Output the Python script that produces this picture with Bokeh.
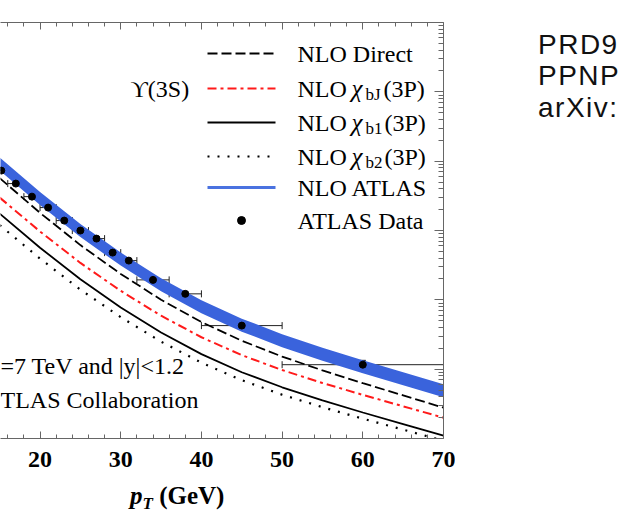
from bokeh.plotting import figure
from bokeh.layouts import row, column
from bokeh.models import (ColumnDataSource, Range1d, LinearScale, LinearAxis, LogAxis, Div,
                          FixedTicker, CustomJSTickFormatter, Whisker, TeeHead)
from bokeh.core.properties import value
from bokeh.embed import file_html
from bokeh.resources import INLINE

# NLO predictions for Upsilon(3S), d(sigma)/dpT x Br, on a pT grid (GeV)
pt_grid = [15, 20, 25, 30, 35, 40, 45, 50, 55, 60, 65, 70]
nlo_direct = [5.703e-2, 1.795e-2, 6.157e-3, 2.364e-3, 1.003e-3, 4.783e-4, 2.569e-4, 1.520e-4, 9.609e-5, 6.281e-5, 4.186e-5, 2.782e-5]
nlo_chibj = [2.984e-2, 9.674e-3, 3.407e-3, 1.349e-3, 5.896e-4, 2.886e-4, 1.592e-4, 9.705e-5, 6.323e-5, 4.257e-5, 2.914e-5, 1.995e-5]
nlo_chib1 = [1.753e-2, 5.646e-3, 1.976e-3, 7.768e-4, 3.374e-4, 1.646e-4, 9.022e-5, 5.481e-5, 3.547e-5, 2.372e-5, 1.614e-5, 1.098e-5]
nlo_chib2 = [1.196e-2, 3.931e-3, 1.403e-3, 5.628e-4, 2.494e-4, 1.241e-4, 6.940e-5, 4.285e-5, 2.829e-5, 1.931e-5, 1.340e-5, 9.297e-6]
nlo_atlas_hi = [0.1127, 3.582e-2, 1.237e-2, 4.799e-3, 2.056e-3, 9.901e-4, 5.354e-4, 3.199e-4, 2.043e-4, 1.349e-4, 9.049e-5, 6.075e-5]
nlo_atlas_lo = [0.07318, 2.326e-2, 8.032e-3, 3.116e-3, 1.335e-3, 6.429e-4, 3.476e-4, 2.077e-4, 1.326e-4, 8.759e-5, 5.876e-5, 3.944e-5]

# ATLAS measurement, |y| < 1.2
data_pt = [15.2, 17, 19, 21, 23, 25, 27, 29, 31, 34, 38, 45, 60]
data_pt_lo = [14, 16, 18, 20, 22, 24, 26, 28, 30, 32, 36, 40, 50]
data_pt_hi = [16, 18, 20, 22, 24, 26, 28, 30, 32, 36, 40, 50, 70]
data_val = [0.0731, 0.0475, 0.0308, 0.0214, 0.0139, 0.00998, 0.00764, 0.00480, 0.00368, 0.00194, 0.00122, 0.000425, 0.000116]
data_err = [0.004, 0.0025, 0.0017, 0.0012, 0.0008, 0.0006, 0.00046, 0.0003, 0.00024, 0.00013, 0.00009, 0.00005, 0.000018]

x_ticks = [20, 30, 40, 50, 60, 70]

SERIF = "Liberation Serif"
BLUE = "#3a63dc"
RED = "#ff1a1a"
AXIS_GREY = "#666666"

p = figure(width=455, height=480, x_range=Range1d(15.1, 70), y_range=Range1d(1e-5, 10),
           y_axis_type="log", x_axis_location=None, y_axis_location=None,
           output_backend="svg", toolbar_location=None, margin=0,
           min_border_left=0, min_border_right=12, min_border_top=22, min_border_bottom=42)
p.outline_line_color = None
p.grid.visible = False
p.background_fill_color = "white"
p.border_fill_color = "white"

# pixel-like coordinate system over the frame, for the legend and notes
p.extra_x_ranges = {"px": Range1d(0, 443)}
p.extra_y_ranges = {"py": Range1d(416, 0)}
p.extra_x_scales = {"px": LinearScale()}
p.extra_y_scales = {"py": LinearScale()}

blank = CustomJSTickFormatter(code="return ''")


def frame_axis(axis, major=7, minor=4):
    axis.axis_line_color = AXIS_GREY
    axis.major_tick_line_color = AXIS_GREY
    axis.minor_tick_line_color = AXIS_GREY
    axis.major_tick_in = major
    axis.major_tick_out = 0
    axis.minor_tick_in = minor
    axis.minor_tick_out = 0
    return axis


minor_x = [v for v in range(16, 71, 2) if v not in x_ticks]
xb = frame_axis(LinearAxis(ticker=FixedTicker(ticks=x_ticks, minor_ticks=minor_x)))
xb.major_label_text_font = SERIF
xb.major_label_text_font_style = "bold"
xb.major_label_text_font_size = "24px"
xb.major_label_text_color = "black"
xb.major_label_standoff = 13
p.add_layout(xb, "below")

xt = frame_axis(LinearAxis(ticker=FixedTicker(ticks=x_ticks, minor_ticks=minor_x), formatter=blank))
xt.major_label_text_font_size = "0px"
xt.major_label_standoff = 0
p.add_layout(xt, "above")

decades = [10.0 ** e for e in range(-5, 2)]
minor_y = [m * 10.0 ** e for e in range(-5, 1) for m in range(2, 10)]
yr = frame_axis(LogAxis(ticker=FixedTicker(ticks=decades, minor_ticks=minor_y), formatter=blank),
                major=9, minor=5)
yr.major_label_text_font_size = "0px"
yr.major_label_standoff = 0
p.add_layout(yr, "right")

# NLO ATLAS band and NLO curves
p.varea(x=pt_grid, y1=nlo_atlas_lo, y2=nlo_atlas_hi, fill_color=BLUE)
p.line(pt_grid, nlo_direct, line_color="black", line_width=1.8, line_dash="10 4")
p.line(pt_grid, nlo_chibj, line_color=RED, line_width=2, line_dash="9 4 3 4")
p.line(pt_grid, nlo_chib1, line_color="black", line_width=1.8)
p.line(pt_grid, nlo_chib2, line_color="black", line_width=2.2, line_dash="2 8")

# ATLAS data with error bars
src = ColumnDataSource(dict(
    x=data_pt, y=data_val,
    ylo=[v - e for v, e in zip(data_val, data_err)],
    yhi=[v + e for v, e in zip(data_val, data_err)],
    xlo=data_pt_lo, xhi=data_pt_hi,
))
p.add_layout(Whisker(source=src, base="x", lower="ylo", upper="yhi", dimension="height",
                     line_color="black", line_width=1,
                     lower_head=TeeHead(size=6, line_color="black"),
                     upper_head=TeeHead(size=6, line_color="black")))
p.add_layout(Whisker(source=src, base="y", lower="xlo", upper="xhi", dimension="width",
                     line_color="#222222", line_width=1,
                     lower_head=TeeHead(size=7, line_color="#222222"),
                     upper_head=TeeHead(size=7, line_color="#222222")))
p.scatter("x", "y", source=src, size=7, color="black")

# legend, drawn in frame pixels
rows = [31, 66, 100, 134, 165, 198]
sx0, sx1, tx = 207, 275, 297
lkw = dict(x_range_name="px", y_range_name="py")
p.line([sx0, sx1], [rows[0]] * 2, line_color="black", line_width=1.8, line_dash="10 4", **lkw)
p.line([sx0, sx1], [rows[1]] * 2, line_color=RED, line_width=2, line_dash="9 4 3 4", **lkw)
p.line([sx0, sx1], [rows[2]] * 2, line_color="black", line_width=1.8, **lkw)
p.line([sx0, sx1], [rows[3]] * 2, line_color="black", line_width=2.2, line_dash="2 8", **lkw)
p.line([sx0, sx1], [rows[4]] * 2, line_color="#4a72e0", line_width=3, **lkw)
p.scatter([(sx0 + sx1) / 2], [rows[5]], size=8, color="black", **lkw)

tkw = dict(text_font=value(SERIF), text_color="black", text_baseline="middle", **lkw)
p.text([tx, tx, tx], [rows[0], rows[4], rows[5]], text=["NLO Direct", "NLO ATLAS", "ATLAS Data"],
       text_font_size="24px", **tkw)
p.text([tx] * 3, rows[1:4], text=["NLO"] * 3, text_font_size="24px", **tkw)
p.text([tx + 54] * 3, rows[1:4], text=["\u03c7"] * 3, text_font_size="25px",
       text_font_style="italic", **tkw)
p.text([tx + 68] * 3, [r + 6 for r in rows[1:4]], text=["bJ", "b1", "b2"], text_font_size="17px", **tkw)
p.text([tx + 86, tx + 87, tx + 87], rows[1:4], text=["(3P)"] * 3, text_font_size="24px", **tkw)
p.text([130], [66], text=["\u03d2(3S)"], text_font_size="24px", **tkw)

# collision conditions and experiment, running in from the left edge
p.text([0, 0], [343, 377], text=["=7 TeV and |y|<1.2", "TLAS Collaboration"],
       text_font_size="24px", **tkw)

# x-axis title under the plot: bold italic p with subscript T
xlabel = Div(width=455, height=32, margin=0, text=(
    "<div style=\"font-family:'Liberation Serif';font-size:25px;line-height:32px;"
    "font-weight:bold;padding-left:130px;white-space:nowrap;color:black\">"
    "<i>p</i><i style=\"font-size:17px;vertical-align:-5px;line-height:0\">T</i> (GeV)</div>"))

# references beside the figure
refs = Div(width=173, height=512, margin=0, text=(
    "<div style=\"font-family:'Liberation Sans';font-size:28px;line-height:31.4px;"
    "letter-spacing:1.5px;padding-left:83px;padding-top:29px;white-space:nowrap;"
    "color:#111111\">PRD9<br>PPNP<br>arXiv:</div>"))

layout = row(column(p, xlabel, spacing=0), refs, spacing=0)

open("out.html", "w").write(file_html(layout, INLINE))
